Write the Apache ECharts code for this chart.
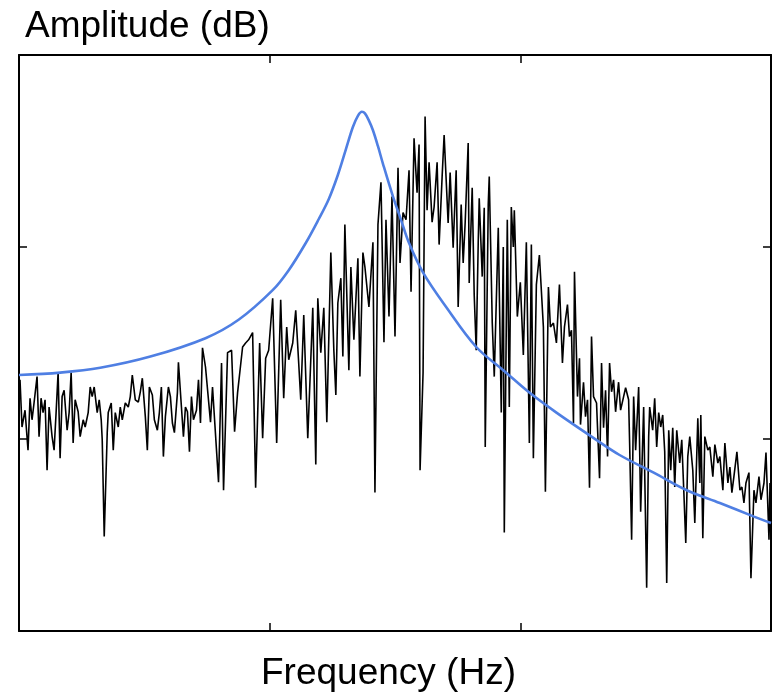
<!DOCTYPE html>
<html>
<head>
<meta charset="utf-8">
<script src="https://cdn.jsdelivr.net/npm/echarts@6/dist/echarts.min.js"></script>
<style>html,body{margin:0;padding:0;background:#fff}#c{width:777px;height:695px}</style>
</head>
<body>
<div id="c"></div>
<script>
// Measured spectrum (frequency, amplitude)
const measuredFreq = [2,6,12,18,22,26,30,36,40,44,48,52,56,60,66,70,74,78,82,86,90,96,100,104,108,112,118,122,128,132,138,142,146,150,156,160,164,166,170,176,178,184,188,192,198,202,206,212,218,222,226,232,238,242,246,252,256,260,266,270,276,280,284,288,292,298,302,306,310,316,318,324,328,332,336,340,344,348,354,358,362,366,372,382,386,398,404,408,416,424,430,436,446,452,458,466,472,480,486,492,498,506,514,522,528,534,538,546,552,562,568,576,586,592,596,602,608,614,622,628,632,636,642,646,650,658,662,668,676,680,686,690,698,706,710,716,722,728,732,738,744,750,756,760,766,772,778,782,788,794,798,800,806,810,814,818,824,828,834,838,844,848,856,860,866,872,876,882,886,890,896,898,904,908,912,916,918,924,928,930,936,938,944,948,956,962,966,968,974,978,982,986,988,994,1000,1006,1012,1018,1022,1026,1032,1038,1046,1050,1056,1060,1066,1072,1078,1084,1088,1094,1098,1102,1106,1108,1114,1118,1120,1126,1130,1134,1138,1142,1146,1152,1158,1162,1166,1170,1174,1178,1182,1186,1190,1196,1200,1206,1210,1216,1218,1222,1226,1230,1236,1240,1246,1248,1252,1256,1258,1264,1268,1272,1276,1280,1284,1288,1292,1296,1300,1304,1308,1312,1318,1322,1326,1330,1334,1338,1344,1348,1354,1358,1360,1364,1368,1374,1378,1384,1388,1394,1398,1404,1408,1414,1418,1422,1426,1432,1438,1442,1446,1450,1456,1460,1466,1470,1476,1480,1486,1490,1496,1498,1500];
const measuredAmp = [31.4,25.5,27.6,22.6,29.1,26.4,28.5,31.8,24.3,29.1,27.3,28.9,20.1,28.0,24.3,22.6,27.3,32.3,21.6,29.3,30.1,25.1,27.3,32.3,23.5,28.9,27.4,24.3,26.4,25.5,27.3,30.5,29.3,30.5,27.3,28.9,26.4,23.9,11.8,24.8,27.3,28.5,22.6,27.3,25.5,28.0,26.4,28.5,28.0,29.3,32.0,28.9,28.6,29.9,31.6,26.8,22.6,30.5,29.5,26.4,25.1,27.3,30.5,21.8,26.8,30.5,29.3,26.0,24.8,29.8,33.6,28.0,24.3,28.0,27.4,22.4,29.3,26.4,27.6,31.4,26.0,35.4,33.0,26.1,30.5,18.6,33.5,17.6,34.8,35.1,24.9,29.8,35.5,36.0,36.4,37.3,17.9,36.0,24.1,34.1,35.1,41.6,23.5,41.4,29.1,38.0,33.9,36.0,40.1,28.9,39.5,24.1,40.4,20.8,41.6,34.8,40.4,26.1,47.3,35.1,29.5,41.0,44.1,34.3,50.8,32.6,45.5,36.4,46.6,31.8,47.3,45.5,40.5,48.6,17.3,50.8,56.1,36.1,51.4,39.3,54.3,36.8,57.9,46.0,52.3,51.4,57.6,42.4,61.6,54.8,60.8,20.1,32.3,64.3,52.6,58.6,51.1,53.0,58.6,48.3,56.8,62.0,51.0,57.3,47.9,57.6,40.5,53.3,46.0,51.1,61.0,43.5,55.4,42.0,35.1,48.5,54.1,44.3,52.9,23.0,53.3,56.8,38.5,31.8,50.4,27.3,48.0,12.3,51.4,28.0,53.0,48.0,52.6,39.3,43.6,34.5,48.6,23.5,48.3,21.6,43.3,47.0,38.0,17.4,43.0,38.0,38.5,36.0,43.3,33.5,38.0,40.8,36.8,37.6,26.0,44.9,29.3,34.1,25.8,31.1,26.8,28.9,17.9,36.8,29.3,28.5,19.1,33.5,25.4,30.1,21.8,33.5,29.9,31.4,27.4,31.1,27.6,29.3,30.4,28.9,23.5,11.4,29.3,22.6,30.5,14.9,28.0,20.1,5.4,24.3,28.0,25.1,29.1,23.0,27.3,25.5,27.0,22.4,6.0,25.1,20.1,25.4,18.0,25.1,21.0,23.9,17.6,11.0,21.8,24.3,20.1,13.5,26.6,18.5,27.0,11.6,24.3,22.6,23.0,19.3,23.3,21.0,21.8,17.6,23.5,18.5,20.5,17.3,19.3,22.4,17.6,18.0,16.0,18.5,19.8,6.6,17.6,16.0,19.3,16.4,18.5,22.3,11.4,18.5,10.5];

// Model resonance curve (frequency, amplitude)
const modelFreq = [0,82,162,262,372,438,506,538,572,598,618,636,652,666,676,684,690,698,706,716,726,746,762,778,806,852,912,966,1018,1072,1142,1198,1266,1332,1398,1466,1500];
const modelAmp = [32.0,32.3,32.9,34.3,36.6,38.9,42.6,45.1,48.5,51.5,54.0,57.0,60.2,63.0,64.4,64.9,64.7,63.8,62.6,60.6,58.4,54.3,51.4,48.5,44.8,40.5,35.5,32.6,29.8,27.3,24.3,22.0,19.8,17.6,16.0,14.3,13.5];

const xTicks = [0, 500, 1000, 1500];
const yTicks = [0, 24, 48, 72];

const measured = measuredFreq.map((f, i) => [f, measuredAmp[i]]);
const model = modelFreq.map((f, i) => [f, modelAmp[i]]);

const chart = echarts.init(document.getElementById('c'), null, {renderer: 'canvas'});
const font = 'Liberation Sans, Arial, sans-serif';
const axisCommon = {
  type: 'value',
  axisLine: {show: true, onZero: false, lineStyle: {color: '#000', width: 2}},
  axisTick: {show: true, inside: true, length: 8, lineStyle: {color: '#000', width: 1.5}},
  axisLabel: {show: false},
  splitLine: {show: false}
};
chart.setOption({
  animation: false,
  backgroundColor: '#fff',
  title: [
    {text: 'Amplitude (dB)', left: 20, top: 3, textStyle: {fontFamily: font, fontSize: 37, fontWeight: 'normal', color: '#000'}},
    {text: 'Frequency (Hz)', left: 'center', top: 650, textStyle: {fontFamily: font, fontSize: 37, fontWeight: 'normal', color: '#000'}}
  ],
  grid: {left: 19, top: 55, width: 752, height: 576, containLabel: false},
  xAxis: [
    Object.assign({}, axisCommon, {position: 'bottom', min: xTicks[0], max: xTicks[3], interval: xTicks[1] - xTicks[0]}),
    Object.assign({}, axisCommon, {position: 'top', min: xTicks[0], max: xTicks[3], interval: xTicks[1] - xTicks[0]})
  ],
  yAxis: [
    Object.assign({}, axisCommon, {position: 'left', min: yTicks[0], max: yTicks[3], interval: yTicks[1] - yTicks[0]}),
    Object.assign({}, axisCommon, {position: 'right', min: yTicks[0], max: yTicks[3], interval: yTicks[1] - yTicks[0]})
  ],
  series: [
    {type: 'line', data: measured, xAxisIndex: 0, yAxisIndex: 0, showSymbol: false, symbol: 'none',
     lineStyle: {color: '#000', width: 1.6}, z: 2},
    {type: 'line', data: model, xAxisIndex: 0, yAxisIndex: 0, showSymbol: false, symbol: 'none', smooth: 0.35,
     lineStyle: {color: '#4f7fe3', width: 2.6}, z: 3}
  ]
});
</script>
</body>
</html>
